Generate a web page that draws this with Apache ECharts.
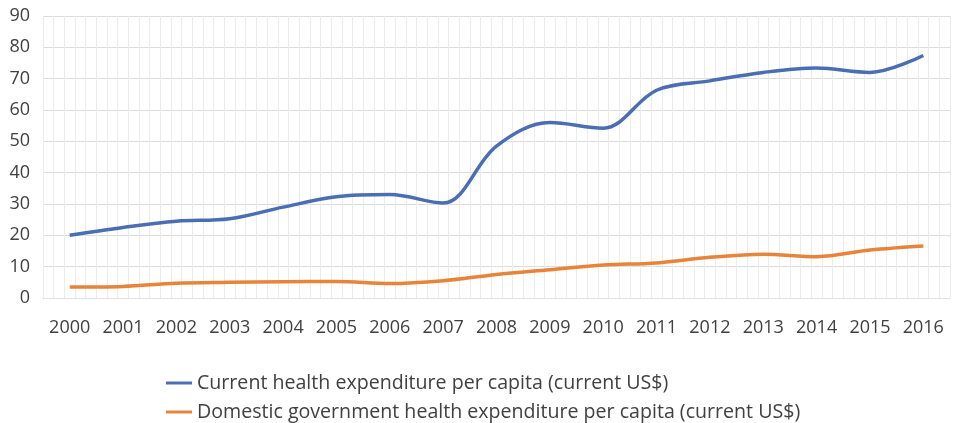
<!DOCTYPE html>
<html>
<head>
<meta charset="utf-8">
<script src="https://cdn.jsdelivr.net/npm/echarts@6/dist/echarts.min.js"></script>
<style>html,body{margin:0;padding:0;background:#fff}#c{width:953px;height:423px}</style>
</head>
<body>
<div id="c"></div>
<script>
var years = ['2000','2001','2002','2003','2004','2005','2006','2007','2008','2009','2010','2011','2012','2013','2014','2015','2016'];
var currentHealth = [20, 22.5, 24.5, 25.3, 29, 32.3, 33, 30.3, 48.5, 56, 54.2, 66.3, 69.3, 72, 73.4, 72, 77.4];
var domesticGov = [3.5, 3.7, 4.7, 5.0, 5.2, 5.3, 4.6, 5.5, 7.5, 9.0, 10.5, 11.2, 13.0, 14.0, 13.2, 15.3, 16.6];
var seriesNames = ['Current health expenditure per capita (current US$)', 'Domestic government health expenditure per capita (current US$)'];
var yTicks = {min: 0, max: 90, interval: 10};

var chart = echarts.init(document.getElementById('c'));
var font = 'Open Sans';
function legendFor(name, top) {
  return {
    orient: 'horizontal',
    left: 161,
    top: top,
    itemWidth: 26,
    itemHeight: 3,
    icon: 'rect',
    textStyle: {fontFamily: font, fontSize: 19.6, color: '#404040'},
    data: [name]
  };
}
chart.setOption({
  animation: false,
  backgroundColor: '#ffffff',
  grid: {left: 43, right: 3, top: 16, bottom: 125, containLabel: false},
  legend: [legendFor(seriesNames[0], 368), legendFor(seriesNames[1], 397)],
  xAxis: [{
    type: 'category',
    data: years,
    boundaryGap: true,
    axisLine: {show: true, lineStyle: {color: '#e0e0e0'}},
    axisTick: {show: false},
    splitLine: {show: false},
    axisLabel: {fontFamily: font, fontSize: 18, color: '#404040', margin: 21, interval: 0}
  }, {
    type: 'value',
    position: 'top',
    min: 0, max: 85, interval: 1,
    axisLine: {show: false}, axisTick: {show: false}, axisLabel: {show: false},
    splitLine: {show: true, lineStyle: {color: '#ececec', width: 1}}
  }],
  yAxis: {
    type: 'value',
    min: yTicks.min, max: yTicks.max, interval: yTicks.interval,
    axisLine: {show: false}, axisTick: {show: false},
    splitLine: {show: true, lineStyle: {color: '#dcdcdc'}},
    axisLabel: {fontFamily: font, fontSize: 18, color: '#404040', margin: 13}
  },
  series: [{
    name: seriesNames[0], type: 'line', xAxisIndex: 0, data: currentHealth,
    smooth: 0.35, showSymbol: false, symbol: 'none',
    lineStyle: {color: '#4a6db3', width: 3.5}, itemStyle: {color: '#4a6db3'}
  }, {
    name: seriesNames[1], type: 'line', xAxisIndex: 0, data: domesticGov,
    smooth: 0.35, showSymbol: false, symbol: 'none',
    lineStyle: {color: '#e8833a', width: 3.5}, itemStyle: {color: '#e8833a'}
  }]
});
</script>
</body>
</html>
